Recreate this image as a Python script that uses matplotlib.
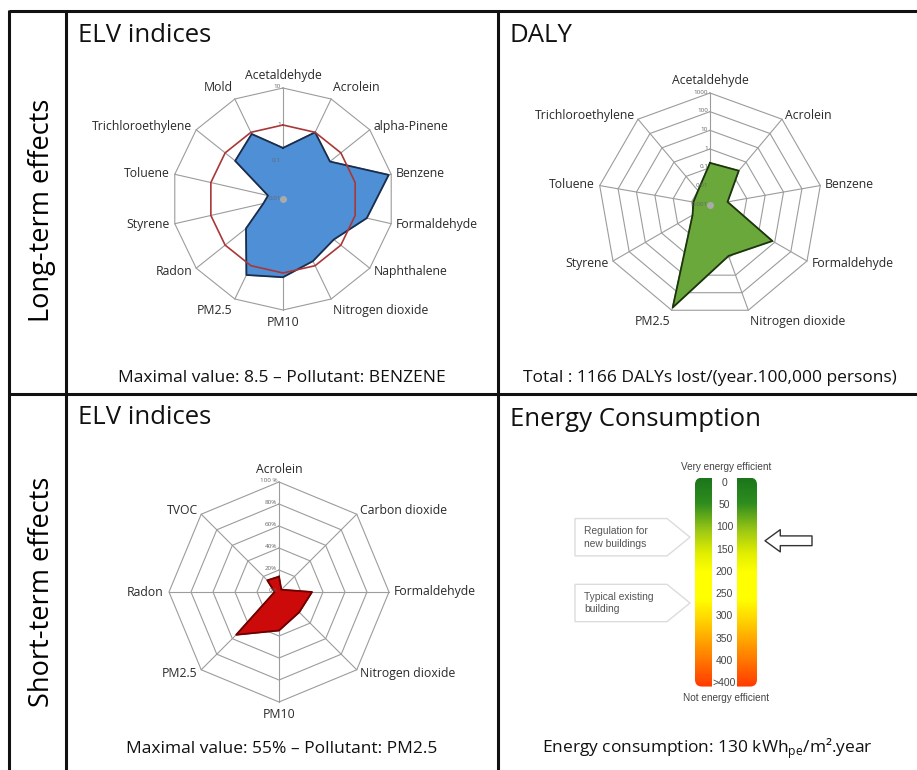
import numpy as np
import matplotlib
matplotlib.use("Agg")
import matplotlib.pyplot as plt
from matplotlib.colors import LinearSegmentedColormap
from matplotlib.patches import FancyBboxPatch, Rectangle, FancyArrowPatch, Polygon

W, H = 917, 770

# long-term ELV indices (log scale, limit value = 1)
elv_long_names = ['Acetaldehyde', 'Acrolein', 'alpha-Pinene', 'Benzene', 'Formaldehyde',
                  'Naphthalene', 'Nitrogen dioxide', 'PM10', 'PM2.5', 'Radon', 'Styrene',
                  'Toluene', 'Trichloroethylene', 'Mold']
elv_long_vals = [0.24, 1.0, 0.42, 8.5, 2.1, 0.57, 0.73, 1.3, 1.9, 0.19, 0.035, 0.026, 0.45, 0.89]
elv_long_ticks = [0.01, 0.1, 1, 10]
elv_long_ticklabels = ['0.01', '0.1', '1', '10']
elv_limit = 1

# DALY (log scale)
daly_names = ['Acetaldehyde', 'Acrolein', 'Benzene', 'Formaldehyde', 'Nitrogen dioxide',
              'PM2.5', 'Styrene', 'Toluene', 'Trichloroethylene']
daly_vals = [0.18, 0.25, 0.009, 7.2, 0.8, 700, 0.012, 0.008, 0.01]
daly_ticks = [0.001, 0.01, 0.1, 1, 10, 100, 1000]
daly_ticklabels = ['0.001', '0.01', '0.1', '1', '10', '100', '1000']

# short-term ELV indices (%)
elv_short_names = ['Acrolein', 'Carbon dioxide', 'Formaldehyde', 'Nitrogen dioxide', 'PM10',
                   'PM2.5', 'Radon', 'TVOC']
elv_short_vals = [14, 3, 30, 26, 35, 55, 4, 15]
elv_short_ticks = [0, 20, 40, 60, 80, 100]
elv_short_ticklabels = ['0%', '20%', '40%', '60%', '80%', '100 %']

# energy label
energy_levels = ['0', '50', '100', '150', '200', '250', '300', '350', '400', '>400']
energy_level_vals = [0, 50, 100, 150, 200, 250, 300, 350, 400, 450]
energy_value = 130
callout_texts = ['Regulation for\nnew buildings', 'Typical existing\nbuilding']
callout_vals = [122, 270]

plt.rcParams['font.family'] = ['Open Sans', 'DejaVu Sans']

fig = plt.figure(figsize=(W / 100, H / 100), dpi=100)
bg = fig.add_axes([0, 0, 1, 1])
bg.set_xlim(0, W)
bg.set_ylim(H, 0)
bg.axis('off')

# table frame
lw = 2.2
bg.plot([9, W], [11, 11], color='#111', lw=lw, solid_capstyle='butt')
bg.plot([9, W], [394, 394], color='#111', lw=lw, solid_capstyle='butt')
for xv in [9, 66, 498]:
    bg.plot([xv, xv], [10, H], color='#111', lw=lw, solid_capstyle='butt')

bg.text(42, 210, 'Long-term effects', rotation=90, fontsize=19.5, ha='center', va='center')
bg.text(42, 592, 'Short-term effects', rotation=90, fontsize=19.5, ha='center', va='center')

for x, y, t in [(78, 35, 'ELV indices'), (510, 35, 'DALY'),
                (78, 418, 'ELV indices'), (510, 420, 'Energy Consumption')]:
    bg.text(x, y, t, fontsize=18.5, ha='left', va='center', color='#111')

cap = dict(fontsize=12.5, ha='center', va='center', color='#111')
bg.text(282, 378, 'Maximal value: %.1f \u2013 Pollutant: BENZENE' % max(elv_long_vals), **cap)
bg.text(710, 378, 'Total : 1166 DALYs lost/(year.100,000 persons)', **cap)
bg.text(282, 749, 'Maximal value: %d%% \u2013 Pollutant: PM2.5' % max(elv_short_vals), **cap)
bg.text(707, 749, 'Energy consumption: %d kWh$_{\\mathregular{pe}}$/m\u00b2.year' % energy_value,
        **cap)


def radar(cx, cy, R, names, vals, ticks, ticklabels, rings, log, fc, ec):
    ax = fig.add_axes([(cx - R) / W, 1 - (cy + R) / H, 2 * R / W, 2 * R / H],
                      projection='polar')
    ax.set_theta_zero_location('N')
    ax.set_theta_direction(-1)
    ax.axis('off')
    n = len(names)
    th = np.linspace(0, 2 * np.pi, n + 1)
    conv = np.log10 if log else (lambda v: np.asarray(v, float))
    rt = conv(np.array(ticks, float))
    rmin, rmax = rt[0], rt[-1]
    for t in th[:-1]:
        ax.plot([t, t], [rmin, rmax], color='#9c9c9c', lw=0.8, zorder=1, clip_on=False)
    for rv in conv(np.array(rings, float)):
        ax.plot(th, np.full(n + 1, rv), color='#9c9c9c', lw=0.8, zorder=1, clip_on=False)
    r = conv(np.array(vals + vals[:1], float))
    ax.fill(th, r, color=fc, zorder=3, clip_on=False)
    ax.plot(th, r, color=ec, lw=1.3, zorder=4, clip_on=False)
    for rv, lab in zip(rt, ticklabels):
        ax.annotate(lab, xy=(0, rv), xytext=(-2, 1), textcoords='offset pixels',
                    ha='right', va='center', fontsize=4.5, color='#666', zorder=6)
    for t, name in zip(th[:-1], names):
        s, c = np.sin(t), np.cos(t)
        ha = 'left' if s > 0.05 else ('right' if s < -0.05 else 'center')
        va = 'bottom' if c > 0.85 else ('top' if c < -0.85 else 'center')
        off = 5 if abs(s) > 0.05 else 6
        ax.annotate(name, xy=(t, rmax), xytext=(off * s, off * c), textcoords='offset pixels',
                    ha=ha, va=va, fontsize=8.8, color='#2a2a2a')
    ax.set_ylim(rmin, rmax)
    return ax, th, conv


ax1, th1, conv1 = radar(283, 199, 111, elv_long_names, elv_long_vals, elv_long_ticks,
                        elv_long_ticklabels, [elv_long_ticks[-1]], True, '#4f8fd6', '#1c2d4a')
ax1.plot(th1, np.full(len(th1), conv1(float(elv_limit))), color='#a83838', lw=1.2, zorder=5,
         clip_on=False)
ax1.plot(0, conv1(float(elv_long_ticks[0])), 'o', color='#aaaaaa', ms=4, zorder=5)

ax2, th2, conv2 = radar(710, 205, 112, daly_names, daly_vals, daly_ticks, daly_ticklabels,
                        daly_ticks[1:], True, '#6aa83c', '#1e3410')
ax2.plot(0, conv2(float(daly_ticks[0])), 'o', color='#aaaaaa', ms=4, zorder=5)

ax3, th3, conv3 = radar(279, 592, 110, elv_short_names, elv_short_vals, elv_short_ticks,
                        elv_short_ticklabels, elv_short_ticks[1:], False, '#cc0a0a', '#6a0000')

# energy consumption scale: 0 kWh at y=483 px, 450 (">400") at y=683 px
bar_lo, bar_hi = -12, 458
px_per = 200 / 450
y_top = 483 + bar_lo * px_per
y_bot = 483 + bar_hi * px_per
eax = fig.add_axes([695 / W, 1 - y_bot / H, 62 / W, (y_bot - y_top) / H])
cmap = LinearSegmentedColormap.from_list('energy', [
    (0.0, '#1b761b'), (0.12, '#2f8d1f'), (0.25, '#9cc814'), (0.36, '#e2ee00'),
    (0.45, '#ffff00'), (0.58, '#ffff00'), (0.68, '#ffd400'), (0.8, '#ff9a00'),
    (0.9, '#ff6a00'), (1.0, '#ff3a00')])
grad = np.linspace(0, 1, 256).reshape(-1, 1)
im = eax.imshow(grad, extent=[695, 757, bar_hi, bar_lo], aspect='auto', cmap=cmap,
                origin='upper', zorder=1)
clip = FancyBboxPatch((695, bar_lo), 62, bar_hi - bar_lo,
                      boxstyle='round,pad=0,rounding_size=7', mutation_aspect=1 / px_per,
                      fc='none', ec='none')
eax.add_patch(clip)
im.set_clip_path(clip)
eax.add_patch(Rectangle((712, bar_lo - 5), 25, bar_hi - bar_lo + 10, fc='white', ec='none',
                        zorder=2))
for v, lab in zip(energy_level_vals, energy_levels):
    eax.text(724.5, v, lab, ha='center', va='center', fontsize=7.5, color='#444',
             family='Liberation Sans', zorder=3)
eax.annotate('Very energy efficient', xy=(726, bar_lo), xytext=(0, 6),
             textcoords='offset pixels', ha='center', va='bottom', fontsize=7.2,
             color='#444', family='Liberation Sans', annotation_clip=False)
eax.annotate('Not energy efficient', xy=(726, bar_hi), xytext=(0, -6),
             textcoords='offset pixels', ha='center', va='top', fontsize=7.2,
             color='#444', family='Liberation Sans', annotation_clip=False)
hh = 42
for v, txt in zip(callout_vals, callout_texts):
    eax.add_patch(Polygon([(575, v - hh), (667, v - hh), (690, v), (667, v + hh),
                           (575, v + hh)], closed=True, fc='white', ec='#dcdcdc',
                          lw=1, clip_on=False))
    eax.text(584, v, txt, ha='left', va='center', fontsize=7.4, color='#555',
             family='Liberation Sans', linespacing=1.35)
eax.add_patch(FancyArrowPatch((812, energy_value), (765, energy_value),
                              arrowstyle='simple,head_length=1.1,head_width=1.6,tail_width=0.7',
                              mutation_scale=10, fc='white', ec='#333', lw=1,
                              shrinkA=0, shrinkB=0, clip_on=False))
eax.set_xlim(695, 757)
eax.set_ylim(bar_hi, bar_lo)
eax.axis('off')

fig.savefig('out.png', dpi=100)
